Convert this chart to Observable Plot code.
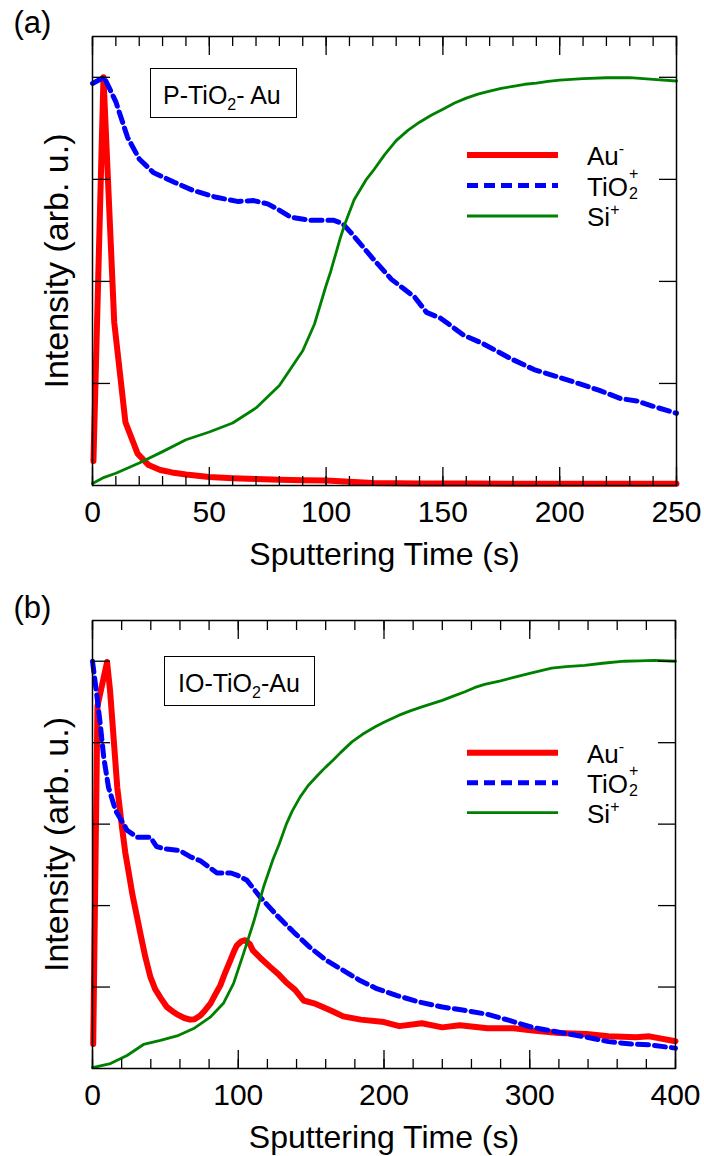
<!DOCTYPE html>
<html>
<head>
<meta charset="utf-8">
<script src="https://cdn.jsdelivr.net/npm/d3@7"></script>
<script src="https://cdn.jsdelivr.net/npm/@observablehq/plot@0.6"></script>
<style>
  body { margin: 0; background: #fff; font-family: "Liberation Sans", Arial, Helvetica, sans-serif; }
  #root { position: relative; width: 704px; height: 1156px; overflow: hidden; background: #fff; }
  .panel { position: absolute; left: 0; width: 704px; }
  .box { position: absolute; box-sizing: border-box; border: 1.5px solid #000; height: 50px;
         font-size: 25px; line-height: 25px; padding-top: 14px; white-space: nowrap; color: #000; }
  .leg { position: absolute; font-size: 26px; line-height: 26px; white-space: nowrap; color: #000; }
  .sub { font-size: 16px; position: relative; top: 6px; line-height: 0; }
  .sup { font-size: 16px; position: relative; top: -11px; line-height: 0; }
  .stack { position: relative; display: inline-block; width: 12px; height: 20px; }
  .stack .a { position: absolute; left: 1px; top: -10px; font-size: 16px; line-height: 16px; }
  .stack .b { position: absolute; left: 1px; top: 10px; font-size: 16px; line-height: 16px; }
</style>
</head>
<body>
<div id="root"></div>
<script>
// ---------------- Data (normalized intensity) ----------------
// Panel (a): P-TiO2-Au, sputtering time 0–250 s
const timeAuA = [0.4, 4.7, 9.3, 14.1, 19.3, 24, 29, 34, 40, 50, 60, 70, 80, 90, 100, 110, 120, 140, 160, 180, 200, 220, 250];
const auA     = [0.06, 1.0, 0.40, 0.155, 0.078, 0.05, 0.038, 0.032, 0.027, 0.021, 0.018, 0.016, 0.014, 0.013, 0.012, 0.009, 0.006, 0.005, 0.005, 0.004, 0.004, 0.004, 0.004];

const timeTiA = [0, 5, 10, 15, 20, 26, 35, 43, 53, 62, 69, 75, 79, 85, 93, 103, 107, 111, 120, 128, 138, 143, 149, 159, 167, 179, 189, 197, 208, 217, 226, 233, 240, 250];
const tiA     = [0.985, 1.0, 0.94, 0.853, 0.80, 0.767, 0.743, 0.723, 0.706, 0.696, 0.698, 0.69, 0.678, 0.657, 0.65, 0.65, 0.642, 0.617, 0.556, 0.505, 0.461, 0.424, 0.41, 0.368, 0.348, 0.311, 0.284, 0.27, 0.25, 0.233, 0.213, 0.207, 0.194, 0.177];

const timeSiA = [0, 5, 10, 20, 30, 40, 50, 60, 70, 80, 90, 95, 100, 102, 104, 106, 108, 112, 117, 120, 125, 130, 135, 140, 145, 150, 155, 160, 165, 170, 175, 180, 185, 190, 195, 200, 210, 220, 230, 240, 250];
const siA     = [0.005, 0.02, 0.03, 0.055, 0.083, 0.112, 0.131, 0.153, 0.19, 0.245, 0.33, 0.395, 0.49, 0.525, 0.565, 0.605, 0.64, 0.70, 0.748, 0.77, 0.81, 0.845, 0.87, 0.89, 0.907, 0.922, 0.937, 0.949, 0.959, 0.966, 0.973, 0.978, 0.983, 0.986, 0.99, 0.993, 0.997, 0.999, 0.999, 0.995, 0.991];

// Panel (b): IO-TiO2-Au, sputtering time 0–400 s
const timeAuB = [0.5, 3.4, 10, 12, 14.6, 17, 20.3, 22.5, 24.9, 27.5, 30.6, 33.5, 36.3, 39.7, 43, 46.6, 51, 55, 58, 63, 67, 70, 74, 77, 81, 84, 87.7, 91, 94.5, 97, 99, 102, 104.8, 108, 110, 115, 122, 128, 133, 139, 144.8, 152, 158, 165, 172, 184, 200, 210.5, 226, 240, 252, 271, 289, 302, 320, 339, 354, 373, 382, 400];
const auB     = [0.06, 0.89, 0.998, 0.93, 0.806, 0.69, 0.59, 0.53, 0.48, 0.425, 0.371, 0.32, 0.273, 0.225, 0.195, 0.174, 0.151, 0.14, 0.133, 0.124, 0.12, 0.121, 0.13, 0.142, 0.16, 0.18, 0.204, 0.235, 0.265, 0.287, 0.302, 0.312, 0.315, 0.305, 0.29, 0.272, 0.249, 0.23, 0.211, 0.193, 0.167, 0.16, 0.151, 0.14, 0.128, 0.12, 0.114, 0.104, 0.111, 0.101, 0.106, 0.099, 0.099, 0.093, 0.087, 0.085, 0.079, 0.077, 0.079, 0.067];

const timeTiB = [0, 3.2, 5.5, 7.7, 11, 15.8, 23.7, 30.6, 39.7, 44, 48.6, 60, 67, 74, 85.4, 95, 99, 106, 115, 126.5, 138, 149, 160.7, 172, 183.6, 195, 209, 224.4, 240, 255, 271, 286, 301.7, 320, 338.8, 354, 369.7, 382, 400];
const tiB     = [1.0, 0.91, 0.84, 0.764, 0.69, 0.634, 0.585, 0.568, 0.568, 0.545, 0.54, 0.535, 0.52, 0.51, 0.48, 0.48, 0.475, 0.462, 0.421, 0.376, 0.335, 0.298, 0.265, 0.241, 0.216, 0.196, 0.179, 0.163, 0.151, 0.143, 0.133, 0.118, 0.101, 0.089, 0.077, 0.066, 0.06, 0.058, 0.05];

const timeSiB = [0, 12.3, 23.7, 35, 46.6, 58, 69.4, 80.8, 90, 96.8, 103.6, 110.5, 117.3, 124, 128, 133, 137, 142.5, 148, 155, 160, 165, 170, 178, 185, 194, 200, 210, 218, 226, 233, 240, 248, 255.6, 262, 269, 280, 289.7, 300, 315, 325, 337.7, 350, 365, 375, 385.6, 400];
const siB     = [0.002, 0.012, 0.032, 0.059, 0.069, 0.08, 0.098, 0.126, 0.161, 0.209, 0.282, 0.359, 0.445, 0.515, 0.55, 0.6, 0.632, 0.667, 0.695, 0.722, 0.74, 0.757, 0.775, 0.802, 0.82, 0.839, 0.85, 0.867, 0.878, 0.888, 0.896, 0.904, 0.915, 0.925, 0.935, 0.943, 0.952, 0.961, 0.97, 0.983, 0.987, 0.99, 0.995, 1.0, 1.001, 1.002, 1.0];

// Axis ticks
const majorA = [0, 50, 100, 150, 200, 250];
const minorA = d3.range(0, 251, 10);
const yTicksA = [0.25, 0.5, 0.75, 1.0];
const majorB = [0, 100, 200, 300, 400];
const minorB = d3.range(0, 401, 20);
const yTicksB = [0.2, 0.4, 0.6, 0.8, 1.0];

const xLabel = "Sputtering Time (s)";
const yLabel = "Intensity (arb. u.)";

// Series styles
const RED = "#ff0000", BLUE = "#0000ff", GREEN = "#008000";

function rows(t, v) { return t.map((d, i) => ({t: d, v: v[i]})); }

function makePanel(cfg) {
  const blank = () => "";
  const tickStyle = {strokeWidth: 1.3, label: null, tickFormat: blank};
  const svg = Plot.plot({
    width: 704,
    height: cfg.height,
    marginTop: cfg.mt,
    marginBottom: cfg.mb,
    marginLeft: 92,
    marginRight: cfg.mr,
    x: {domain: [0, cfg.xMax]},
    y: {domain: [0, 1.1]},
    style: {fontFamily: "'Liberation Sans', Arial, Helvetica, sans-serif", fontSize: "30px", color: "#000", background: "#fff", overflow: "visible"},
    marks: [
      Plot.line(rows(cfg.tAu, cfg.au), {x: "t", y: "v", stroke: RED, strokeWidth: 6, strokeLinejoin: "round"}),
      Plot.line(rows(cfg.tTi, cfg.ti), {x: "t", y: "v", stroke: BLUE, strokeWidth: 5, strokeDasharray: "11,6"}),
      Plot.line(rows(cfg.tSi, cfg.si), {x: "t", y: "v", stroke: GREEN, strokeWidth: 2.8}),
      Plot.frame({stroke: "#000", strokeWidth: 1.5}),
      Plot.axisX({anchor: "bottom", ticks: cfg.major, tickSize: 0, tickPadding: 15, label: null, tickFormat: d => String(d), fontSize: 30}),
      Plot.axisX({anchor: "bottom", ticks: cfg.major, tickSize: -18, ...tickStyle}),
      Plot.axisX({anchor: "bottom", ticks: cfg.minor, tickSize: -9, ...tickStyle}),
      Plot.axisX({anchor: "top", ticks: cfg.major, tickSize: -18, ...tickStyle}),
      Plot.axisX({anchor: "top", ticks: cfg.minor, tickSize: -9, ...tickStyle}),
      Plot.axisY({anchor: "left", ticks: cfg.yTicks, tickSize: -18, ...tickStyle}),
      Plot.axisY({anchor: "right", ticks: cfg.yTicks, tickSize: -18, ...tickStyle}),
      Plot.text([xLabel], {frameAnchor: "bottom", text: d => d, dy: 69, fontSize: 32, fill: "#000", textAnchor: "middle", lineAnchor: "middle"}),
      Plot.text([yLabel], {frameAnchor: "left", text: d => d, rotate: -90, dx: -35, fontSize: 34, fill: "#000", textAnchor: "middle", lineAnchor: "middle"}),
      Plot.text([cfg.tag], {frameAnchor: "top-left", text: d => d, dx: -79, dy: cfg.tagDy, textAnchor: "start", lineAnchor: "middle", fontSize: 31, fill: "#000"})
    ]
  });
  const div = document.createElement("div");
  div.className = "panel";
  div.style.top = cfg.top + "px";
  div.style.height = cfg.height + "px";
  div.appendChild(svg);

  // sample label box
  const box = document.createElement("div");
  box.className = "box";
  box.style.left = cfg.box.left + "px";
  box.style.top = cfg.box.top + "px";
  box.style.width = cfg.box.width + "px";
  box.style.paddingLeft = cfg.box.pad + "px";
  box.innerHTML = cfg.box.html;
  div.appendChild(box);

  // legend
  const ns = "http://www.w3.org/2000/svg";
  const lsvg = document.createElementNS(ns, "svg");
  lsvg.setAttribute("width", 704); lsvg.setAttribute("height", cfg.height);
  lsvg.style.position = "absolute"; lsvg.style.left = "0"; lsvg.style.top = "0"; lsvg.style.pointerEvents = "none";
  const legItems = [
    {html: 'Au<span class="sup">-</span>', stroke: RED, w: 6, dash: null},
    {html: 'TiO<span class="stack"><span class="a">+</span><span class="b">2</span></span>', stroke: BLUE, w: 5, dash: "11,6"},
    {html: 'Si<span class="sup">+</span>', stroke: GREEN, w: 2.8, dash: null}
  ];
  legItems.forEach((it, i) => {
    const y = cfg.leg.y0 + i * cfg.leg.step;
    const ln = document.createElementNS(ns, "line");
    ln.setAttribute("x1", 467); ln.setAttribute("x2", 558);
    ln.setAttribute("y1", y); ln.setAttribute("y2", y);
    ln.setAttribute("stroke", it.stroke); ln.setAttribute("stroke-width", it.w);
    if (it.dash) ln.setAttribute("stroke-dasharray", it.dash);
    lsvg.appendChild(ln);
    const t = document.createElement("div");
    t.className = "leg";
    t.style.left = "587px";
    t.style.top = (y + cfg.leg.textOff) + "px";
    t.innerHTML = it.html;
    div.appendChild(t);
  });
  div.appendChild(lsvg);
  document.getElementById("root").appendChild(div);
}

makePanel({
  top: 0, height: 580, mt: 36, mb: 95, mr: 28, xMax: 250,
  major: majorA, minor: minorA, yTicks: yTicksA,
  tAu: timeAuA, au: auA, tTi: timeTiA, ti: tiA, tSi: timeSiA, si: siA,
  tag: "(a)", tagDy: -13,
  box: {left: 150, top: 68, width: 147, pad: 12, html: 'P-TiO<span class="sub">2</span>- Au'},
  leg: {y0: 155, step: 30.5, textOff: -12}
});

makePanel({
  top: 580, height: 576, mt: 40, mb: 88, mr: 29, xMax: 400,
  major: majorB, minor: minorB, yTicks: yTicksB,
  tAu: timeAuB, au: auB, tTi: timeTiB, ti: tiB, tSi: timeSiB, si: siB,
  tag: "(b)", tagDy: -12,
  box: {left: 164, top: 76, width: 151, pad: 13, html: 'IO-TiO<span class="sub">2</span>-Au'},
  leg: {y0: 172.7, step: 30, textOff: -12}
});
</script>
</body>
</html>
